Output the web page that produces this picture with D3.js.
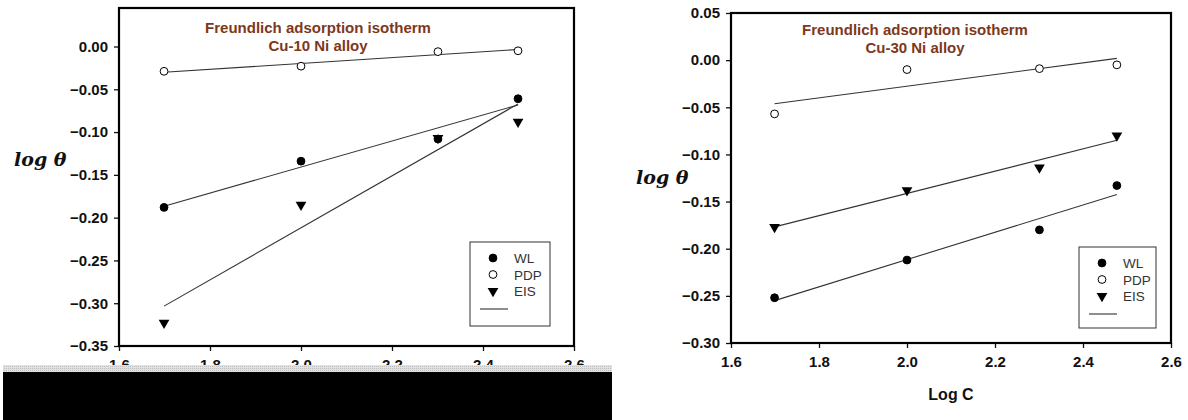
<!DOCTYPE html>
<html>
<head>
<meta charset="utf-8">
<script src="https://cdn.jsdelivr.net/npm/d3@7"></script>
<style>
  body { margin: 0; background: #fff; }
  svg { display: block; }
</style>
</head>
<body>
<svg id="chart" width="1188" height="420"></svg>
<script>
// log C values (50, 100, 200, 300 ppm)
var logC = [1.699, 2.0, 2.301, 2.477];

// Cu-10 Ni
var wl10  = [-0.188, -0.134, -0.108, -0.061];
var pdp10 = [-0.029, -0.023, -0.006, -0.005];
var eis10 = [-0.323, -0.185, -0.107, -0.088];

// Cu-30 Ni
var wl30  = [-0.252, -0.212, -0.180, -0.133];
var pdp30 = [-0.057, -0.010, -0.009, -0.005];
var eis30 = [-0.177, -0.138, -0.114, -0.080];

var xTicks = [1.6, 1.8, 2.0, 2.2, 2.4, 2.6];
var yTicks10 = [0.00, -0.05, -0.10, -0.15, -0.20, -0.25, -0.30, -0.35];
var yTicks30 = [0.05, 0.00, -0.05, -0.10, -0.15, -0.20, -0.25, -0.30];
var legendNames = ["WL", "PDP", "EIS"];

var svg = d3.select("#chart");

// least squares fit
function fit(xs, ys) {
  var mx = d3.mean(xs), my = d3.mean(ys);
  var sxy = d3.sum(xs, function (x, i) { return (x - mx) * (ys[i] - my); });
  var sxx = d3.sum(xs, function (x) { return (x - mx) * (x - mx); });
  var b = sxy / sxx;
  return function (x) { return my + b * (x - mx); };
}

function panel(p) {
  var g = svg.append("g");
  var x = d3.scaleLinear().domain([1.6, 2.6]).range([p.left, p.right]);
  var y = d3.scaleLinear().domain(p.ydom).range([p.bottom, p.top]);

  // axes
  var yAxis = d3.axisLeft(y).tickValues(p.yTicks).tickFormat(d3.format(".2f")).tickSize(5).tickPadding(6);
  var ga = g.append("g").attr("transform", "translate(" + p.left + ",0)").call(yAxis);
  var xAxis = d3.axisBottom(x).tickValues(xTicks).tickFormat(d3.format(".1f")).tickSize(5).tickPadding(8);
  var gb = g.append("g").attr("transform", "translate(0," + p.bottom + ")").call(xAxis);
  [ga, gb].forEach(function (a) {
    a.select(".domain").remove();
    a.selectAll(".tick line").attr("stroke", "#111").attr("stroke-width", 1.3);
    a.selectAll("text").attr("fill", "#111")
      .style("font-family", "Liberation Sans, Arial, sans-serif")
      .style("font-size", "15px").style("font-weight", "bold");
  });

  g.append("rect")
    .attr("x", p.left).attr("y", p.top)
    .attr("width", p.right - p.left).attr("height", p.bottom - p.top)
    .attr("fill", "none").attr("stroke", "#000").attr("stroke-width", 2.2);

  // title
  g.selectAll(".ttl").data(p.title).enter().append("text")
    .attr("x", p.titleX).attr("y", function (d, i) { return p.titleY + i * 18; })
    .attr("text-anchor", "middle")
    .style("font-family", "Liberation Sans, Arial, sans-serif")
    .style("font-size", "15px").style("font-weight", "bold")
    .attr("fill", "#7d381c").text(function (d) { return d; });

  // y label
  g.append("text").attr("x", p.labelX).attr("y", p.labelY)
    .style("font-family", "DejaVu Serif, serif").style("font-style", "italic")
    .style("font-weight", "bold").style("font-size", "19px")
    .attr("fill", "#111").text("log θ");

  // fit lines
  p.series.forEach(function (s) {
    var f = fit(logC, s);
    g.append("line")
      .attr("x1", x(logC[0])).attr("y1", y(f(logC[0])))
      .attr("x2", x(logC[3])).attr("y2", y(f(logC[3])))
      .attr("stroke", "#333").attr("stroke-width", 1.1);
  });

  var tri = d3.symbol().type(d3.symbolTriangle).size(50);

  function marker(sel, k) {
    if (k == 2) {
      sel.append("path").attr("d", tri).attr("transform", function (d) { return "translate(" + d[0] + "," + d[1] + ") rotate(180)"; })
        .attr("fill", "#000");
    } else {
      sel.append("circle").attr("cx", function (d) { return d[0]; }).attr("cy", function (d) { return d[1]; })
        .attr("r", 3.9).attr("fill", k == 0 ? "#000" : "#fff").attr("stroke", "#000").attr("stroke-width", 1);
    }
  }

  p.series.forEach(function (s, k) {
    var pts = logC.map(function (c, i) { return [x(c), y(s[i])]; });
    var sel = g.append("g").selectAll("g").data(pts).enter().append("g");
    marker(sel, k);
  });

  // legend
  var L = p.legend;
  g.append("rect").attr("x", L.x).attr("y", L.y).attr("width", L.w).attr("height", L.h)
    .attr("fill", "#fff").attr("stroke", "#333").attr("stroke-width", 1);
  legendNames.forEach(function (n, k) {
    var ly = L.y + 16 + k * 16.5;
    var sel = g.append("g").selectAll("g").data([[L.x + 23, ly]]).enter().append("g");
    marker(sel, k);
    g.append("text").attr("x", L.x + 44).attr("y", ly + 5)
      .style("font-family", "Liberation Sans, Arial, sans-serif").style("font-size", "13.5px")
      .attr("fill", "#333").text(n);
  });
  g.append("line").attr("x1", L.x + 10).attr("x2", L.x + 38)
    .attr("y1", L.y + 67).attr("y2", L.y + 67).attr("stroke", "#444").attr("stroke-width", 1.2);

  if (p.xLabel) {
    g.append("text").attr("x", (p.left + p.right) / 2).attr("y", 400)
      .attr("text-anchor", "middle")
      .style("font-family", "Liberation Sans, Arial, sans-serif")
      .style("font-size", "16px").style("font-weight", "bold")
      .attr("fill", "#111").text(p.xLabel);
  }
}

panel({
  left: 119, right: 574, top: 8, bottom: 346, ydom: [-0.35, 0.045],
  yTicks: yTicks10, series: [wl10, pdp10, eis10],
  title: ["Freundlich adsorption isotherm", "Cu-10 Ni alloy"], titleX: 318, titleY: 33,
  labelX: 14, labelY: 166,
  legend: { x: 470, y: 242, w: 80, h: 84 }
});

panel({
  left: 731, right: 1171, top: 13, bottom: 343, ydom: [-0.30, 0.05],
  yTicks: yTicks30, series: [wl30, pdp30, eis30],
  title: ["Freundlich adsorption isotherm", "Cu-30 Ni alloy"], titleX: 915, titleY: 35,
  labelX: 636, labelY: 184,
  legend: { x: 1079, y: 247, w: 77, h: 81 },
  xLabel: "Log C"
});

// masked strip over the lower left panel
var defs = svg.append("defs");
var pat = defs.append("pattern").attr("id", "hatch").attr("width", 2).attr("height", 2)
  .attr("patternUnits", "userSpaceOnUse");
pat.append("rect").attr("width", 2).attr("height", 2).attr("fill", "#e2e2e2");
pat.append("rect").attr("width", 1).attr("height", 1).attr("fill", "#bdbdbd");
svg.append("rect").attr("x", 3).attr("y", 365).attr("width", 609).attr("height", 7).attr("fill", "url(#hatch)");
svg.append("rect").attr("x", 3).attr("y", 372).attr("width", 609).attr("height", 48).attr("fill", "#000");
</script>
</body>
</html>
